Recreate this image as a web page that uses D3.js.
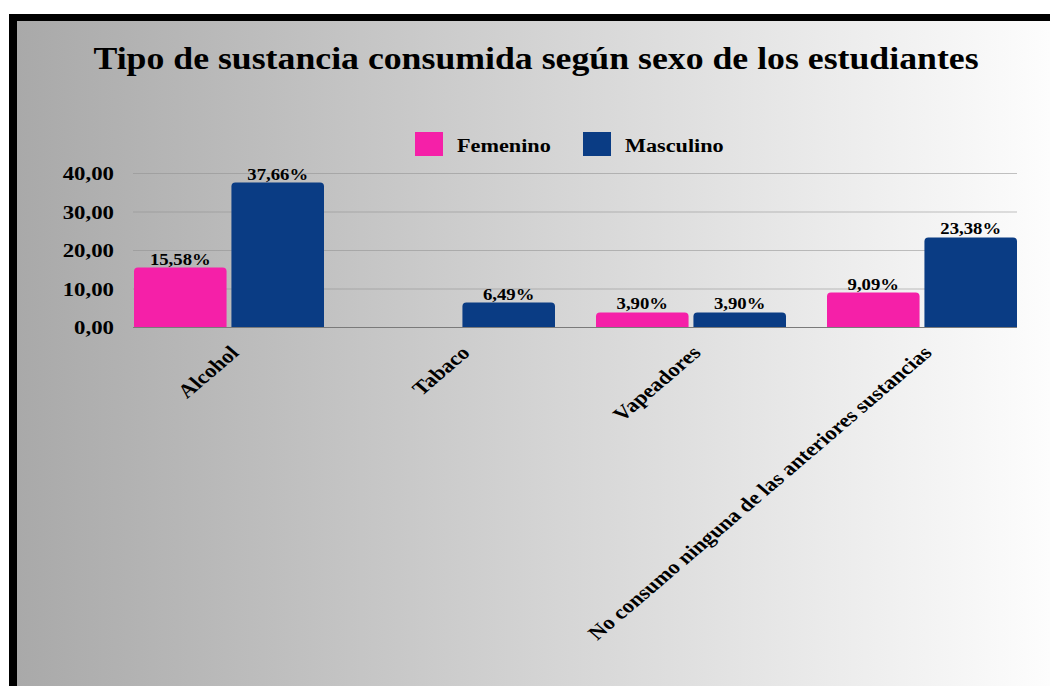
<!DOCTYPE html>
<html>
<head>
<meta charset="utf-8">
<script src="https://cdn.jsdelivr.net/npm/d3@7"></script>
<style>
  body { margin: 0; background: #fff; }
  svg { display: block; }
  text { font-family: "Liberation Serif", "Times New Roman", serif; font-weight: bold; fill: #000; }
</style>
</head>
<body>
<script>
// Tipo de sustancia consumida según sexo (grouped bars)
const categories = ['Alcohol', 'Tabaco', 'Vapeadores', 'No consumo ninguna de las anteriores sustancias'];
const seriesNames = ['Femenino', 'Masculino'];
const femenino = [15.58, 0, 3.90, 9.09];
const masculino = [37.66, 6.49, 3.90, 23.38];
const yTicks = [0, 10, 20, 30, 40];
const colors = ['#f520a8', '#0a3c84'];

const width = 1050, height = 686;
const plotLeft = 133, plotRight = 1017;
const sx = 1.17; // picture is stretched sideways, text too

const svg = d3.select('body').append('svg')
  .attr('width', width)
  .attr('height', height);

// background panel with grey -> white gradient
const defs = svg.append('defs');
const grad = defs.append('linearGradient')
  .attr('id', 'bg')
  .attr('x1', '0%').attr('x2', '100%').attr('y1', '0%').attr('y2', '0%');
grad.append('stop').attr('offset', '0%').attr('stop-color', '#a9a9a9');
grad.append('stop').attr('offset', '100%').attr('stop-color', '#fdfdfd');

svg.append('rect').attr('x', 9).attr('y', 14).attr('width', width - 9).attr('height', height - 14).attr('fill', '#000');
svg.append('rect').attr('x', 17).attr('y', 21).attr('width', width - 17).attr('height', height - 21).attr('fill', 'url(#bg)');

// helper: text with horizontal stretch
function stext(g, x, y, str, size, anchor, rot, k) {
  return g.append('text')
    .attr('transform', `translate(${x},${y}) scale(${k || sx},1)` + (rot ? ` rotate(${rot})` : ''))
    .attr('font-size', size)
    .attr('text-anchor', anchor || 'start')
    .text(str);
}

// title
stext(svg, 536, 69, 'Tipo de sustancia consumida según sexo de los estudiantes', 32.5, 'middle', 0, 1.1);

// scales
const y = d3.scaleLinear().domain([0, 40]).range([327.5, 173.5]);
const x0 = d3.scaleBand().domain(categories).range([113.5, 1037.5]).padding(0);
const x1 = d3.scaleBand().domain(seriesNames).range([20.5, 210.5]).paddingInner(0.05);
const color = d3.scaleOrdinal().domain(seriesNames).range(colors);

const fmt = v => d3.format('.2f')(v).replace('.', ',');

// gridlines + tick labels
const grid = svg.append('g');
grid.selectAll('line')
  .data(yTicks.filter(d => d > 0))
  .join('line')
    .attr('x1', plotLeft).attr('x2', plotRight)
    .attr('y1', d => y(d)).attr('y2', d => y(d))
    .attr('stroke', '#8f8f8f').attr('stroke-opacity', 0.55).attr('stroke-width', 1.2);
yTicks.forEach(t => stext(grid, 114, y(t) + 6.5, fmt(t), 19.5, 'end'));

// bars
const rows = categories.map((c, i) => ({ cat: c, values: [femenino[i], masculino[i]] }));

function topRounded(x, yTop, w, h, r) {
  r = Math.min(r, h, w / 2);
  return `M${x},${yTop + h}V${yTop + r}Q${x},${yTop} ${x + r},${yTop}H${x + w - r}Q${x + w},${yTop} ${x + w},${yTop + r}V${yTop + h}Z`;
}

const groups = svg.append('g')
  .selectAll('g')
  .data(rows)
  .join('g')
    .attr('transform', d => `translate(${x0(d.cat)},0)`);

groups.each(function (d) {
  const g = d3.select(this);
  d.values.forEach((v, j) => {
    if (v <= 0) return;
    const name = seriesNames[j];
    const bx = x1(name), bw = x1.bandwidth();
    g.append('path')
      .attr('fill', color(name))
      .attr('d', topRounded(bx, y(v), bw, y(0) - y(v), 4));
    stext(g, bx + bw / 2, y(v) - 3, fmt(v) + '%', 16, 'middle');
  });
});

// baseline
svg.append('line')
  .attr('x1', plotLeft).attr('x2', plotRight)
  .attr('y1', y(0)).attr('y2', y(0))
  .attr('stroke', '#7a7a7a').attr('stroke-width', 1.2);

// category labels, rotated
const labels = svg.append('g');
categories.forEach(c => {
  stext(labels, x0(c) + x0.bandwidth() / 2 + 11, 354, c, 19.5, 'end', -45);
});

// legend
const legend = svg.append('g');
const legX = [415, 583];
seriesNames.forEach((s, i) => {
  legend.append('rect')
    .attr('x', legX[i]).attr('y', 132)
    .attr('width', 28).attr('height', 24)
    .attr('fill', color(s));
  stext(legend, legX[i] + 42, 152, s, 19, 'start');
});
</script>
</body>
</html>
